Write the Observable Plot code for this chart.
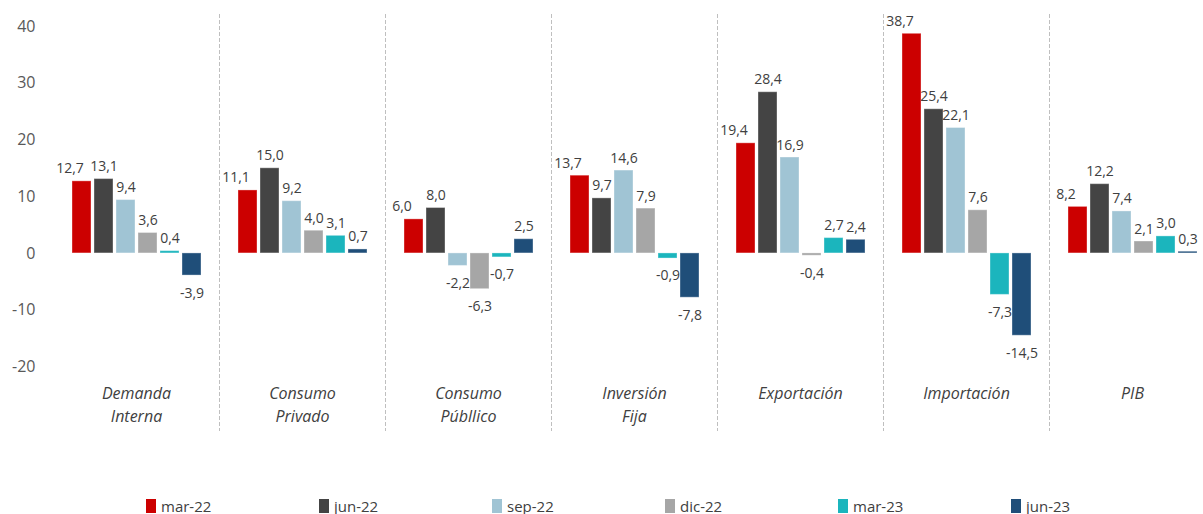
<!DOCTYPE html>
<html>
<head>
<meta charset="utf-8">
<script src="https://cdn.jsdelivr.net/npm/d3@7"></script>
<script src="https://cdn.jsdelivr.net/npm/@observablehq/plot@0.6"></script>
<style>
  body { margin: 0; background: #fff; font-family: "Open Sans", sans-serif; }
  #chart svg { display: block; overflow: visible; }
  .legend { display: grid; grid-template-columns: repeat(6, 173px); padding-left: 146px; margin-top: 16px; font-size: 15px; color: #404040; }
  .legend span.item { display: flex; align-items: center; }
  .legend span.sw { width: 10px; height: 14px; margin-right: 5px; display: inline-block; }
</style>
</head>
<body>
<div id="chart"></div>
<div class="legend" id="legend"></div>
<script>
const categories = ["Demanda\nInterna", "Consumo\nPrivado", "Consumo\nPúbllico", "Inversión\nFija", "Exportación", "Importación", "PIB"];
const periods = ["mar-22", "jun-22", "sep-22", "dic-22", "mar-23", "jun-23"];
const mar22 = [12.7, 11.1, 6.0, 13.7, 19.4, 38.7, 8.2];
const jun22 = [13.1, 15.0, 8.0, 9.7, 28.4, 25.4, 12.2];
const sep22 = [9.4, 9.2, -2.2, 14.6, 16.9, 22.1, 7.4];
const dic22 = [3.6, 4.0, -6.3, 7.9, -0.4, 7.6, 2.1];
const mar23 = [0.4, 3.1, -0.7, -0.9, 2.7, -7.3, 3.0];
const jun23 = [-3.9, 0.7, 2.5, -7.8, 2.4, -14.5, 0.3];
const yTicks = [-20, -10, 0, 10, 20, 30, 40];
const colors = ["#CC0000", "#444444", "#A0C4D4", "#A6A6A6", "#1BB5BD", "#1F4E79"];

const series = [mar22, jun22, sep22, dic22, mar23, jun23];
const data = [];
categories.forEach((c, i) => {
  periods.forEach((p, j) => data.push({cat: c, period: p, value: series[j][i]}));
});
const fmt = v => v.toFixed(1).replace(".", ",");
const labelStyle = {fx: "cat", x: "period", y: "value", text: d => fmt(d.value), fontSize: 14, fill: "#404040"};

const chart = Plot.plot({
  width: 1203,
  height: 480,
  marginTop: 14,
  marginBottom: 50,
  marginLeft: 50,
  marginRight: 0,
  style: {fontFamily: "Open Sans, sans-serif", background: "white"},
  fx: {domain: categories, range: [50, 1217], padding: 0, axis: null},
  x: {domain: periods, paddingInner: 0.145, paddingOuter: 0.82, axis: null},
  y: {domain: [-31.2, 42.1], ticks: yTicks, tickFormat: d => String(d)},
  color: {domain: periods, range: colors},
  marks: [
    Plot.frame({anchor: "right", stroke: "#BFBFBF", strokeDasharray: "3,3", strokeWidth: 1}),
    Plot.axisY({ticks: yTicks, tickFormat: d => String(d), tickSize: 0, tickPadding: 18, fontSize: 16, color: "#595959", label: null}),
    Plot.barY(data, {fx: "cat", x: "period", y: "value", fill: "period", stroke: "white", strokeOpacity: 0.35, strokeWidth: 1}),
    Plot.text(data.filter(d => d.value >= 0 && d.period === periods[0]), {...labelStyle, lineAnchor: "bottom", dy: -8, dx: -12}),
    Plot.text(data.filter(d => d.value >= 0 && d.period !== periods[0]), {...labelStyle, lineAnchor: "bottom", dy: -8}),
    Plot.text(data.filter(d => d.value < 0), {...labelStyle, lineAnchor: "top", dy: 12}),
    Plot.text(categories, {fx: d => d, text: d => d, frameAnchor: "bottom", lineAnchor: "top", dy: -48, lineHeight: 1.45, fontSize: 16, fontStyle: "italic", fill: "#404040"})
  ]
});
document.getElementById("chart").appendChild(chart);

const legend = document.getElementById("legend");
periods.forEach((p, i) => {
  const item = document.createElement("span");
  item.className = "item";
  item.innerHTML = `<span class="sw" style="background:${colors[i]}"></span>${p}`;
  legend.appendChild(item);
});
</script>
</body>
</html>
